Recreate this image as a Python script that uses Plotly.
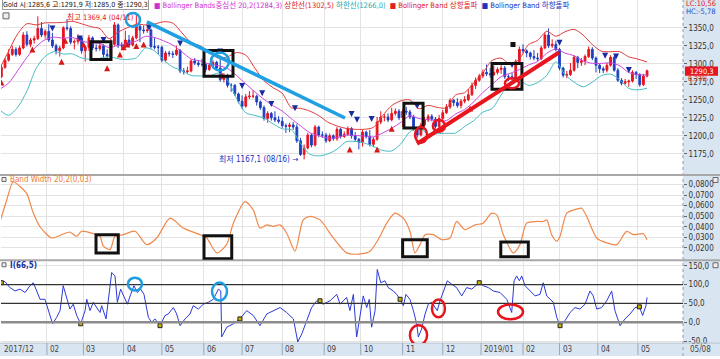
import plotly.graph_objects as go

# ---------------- data ----------------
# x = trading-day number (weekdays), 0 = 2017-12-27
MONTH_DAY = [26, 46, 68, 89, 112, 133, 155, 178, 198, 221, 243, 264, 287, 307, 328, 350]
MONTH_LABEL = ["02", "03", "04", "05", "06", "07", "08", "09", "10", "11", "12",
               "2019/01", "02", "03", "04", "05"]
FIRST_LABEL = "2017/12"
LAST_LABEL = "05/08"

# two-day candles
CANDLE_DAY = list(range(1, 356, 2))
OPEN = [1282,1295,1305,1313,1320,1313,1322,1340,1327,1333,
        1335,1349,1340,1345,1333,1325,1318,1322,1350,1349,
        1330,1331,1336,1318,1323,1336,1322,1321,1325,1313,
        1311,1327,1354,1325,1325,1333,1326,1336,1352,1347,
        1346,1347,1324,1323,1323,1305,1315,1314,1313,1319,
        1290,1289,1290,1304,1301,1299,1299,1292,1298,1302,
        1294,1278,1284,1270,1270,1258,1248,1241,1254,1255,
        1255,1247,1239,1224,1231,1225,1222,1220,1214,1213,
        1215,1212,1193,1174,1183,1201,1187,1212,1201,1201,
        1193,1200,1196,1209,1199,1202,1210,1200,1195,1191,
        1205,1199,1188,1195,1219,1226,1226,1222,1231,1234,
        1225,1234,1233,1226,1210,1201,1215,1222,1227,1223,
        1213,1224,1232,1240,1249,1246,1242,1248,1250,1257,
        1270,1277,1283,1288,1286,1285,1288,1292,1294,1282,
        1282,1280,1303,1320,1318,1315,1310,1308,1307,1322,
        1340,1325,1327,1320,1294,1284,1285,1291,1309,1302,
        1304,1310,1320,1308,1298,1293,1291,1298,1309,1291,
        1277,1273,1275,1276,1288,1285,1271,1283]
HIGH = [1298,1308,1320,1325,1323,1325,1344,1345,1336,1339,
        1366,1358,1348,1355,1343,1328,1325,1352,1362,1352,
        1334,1341,1338,1325,1340,1338,1327,1330,1327,1320,
        1335,1358,1356,1330,1346,1340,1339,1369.4,1354,1353,
        1354,1349,1336,1326,1325,1318,1318,1318,1325,1320,
        1294,1296,1306,1308,1305,1307,1300,1301,1305,1304,
        1309,1287,1286,1273,1272,1260,1256,1258,1262,1263,
        1257,1249,1242,1234,1233,1234,1227,1226,1217,1218,
        1219,1216,1197,1188,1204,1203,1215,1214,1206,1204,
        1203,1202,1212,1211,1206,1213,1212,1205,1197,1208,
        1207,1208,1198,1226,1234,1230,1231,1239,1238,1237,
        1237,1240,1236,1229,1212,1218,1226,1230,1230,1226,
        1229,1236,1244,1252,1251,1252,1251,1255,1265,1274,
        1281,1286,1292,1299,1294,1297,1295,1298,1297,1285,
        1287,1306,1324,1327,1320,1317,1319,1315,1325,1344,
        1349,1334,1332,1322,1296,1290,1301,1312,1311,1308,
        1313,1324,1323,1310,1300,1296,1301,1312,1311,1294,
        1280,1279,1278,1291,1290,1287,1286,1291.9]
LOW = [1280,1293,1303,1311,1310,1311,1320,1324,1323,1328,
       1333,1337,1335,1330,1322,1313,1310,1320,1346,1327,
       1320,1327,1314,1303,1318,1319,1317,1318,1309,1306,
       1309,1325,1322,1321,1322,1323,1324,1334,1330,1342,
       1343,1321,1320,1313,1302,1302,1310,1308,1311,1287,
       1285,1286,1288,1298,1296,1296,1288,1290,1295,1291,
       1275,1274,1267,1261,1255,1245,1237,1239,1251,1252,
       1242,1236,1221,1218,1221,1219,1217,1211,1204,1205,
       1208,1190,1172,1167.1,1181,1184,1185,1198,1197,1190,
       1191,1193,1193,1196,1197,1200,1196,1192,1181,1185,
       1196,1185,1184,1193,1216,1220,1219,1220,1228,1222,
       1212,1229,1223,1207,1197,1199,1213,1219,1220,1210,
       1211,1220,1230,1237,1241,1239,1238,1245,1248,1255,
       1265,1275,1280,1283,1281,1283,1285,1286,1279,1276,
       1276,1278,1301,1315,1309,1306,1305,1304,1305,1320,
       1322,1322,1317,1291,1281,1280,1283,1289,1294,1297,
       1298,1308,1305,1288,1287,1287,1288,1296,1289,1275,
       1270,1271,1268,1274,1279,1268,1269,1281]
CLOSE = [1295,1305,1313,1320,1313,1322,1340,1327,1333,1335,
         1349,1340,1345,1333,1325,1318,1322,1350,1349,1330,
         1331,1336,1318,1323,1336,1322,1321,1325,1313,1311,
         1327,1354,1325,1325,1333,1326,1336,1352,1347,1346,
         1347,1324,1323,1323,1305,1315,1314,1313,1319,1290,
         1289,1290,1304,1301,1299,1299,1292,1298,1302,1294,
         1278,1284,1270,1270,1258,1248,1241,1254,1255,1255,
         1247,1239,1224,1231,1225,1222,1220,1214,1213,1215,
         1212,1193,1174,1183,1201,1187,1212,1201,1201,1193,
         1200,1196,1209,1199,1202,1210,1200,1195,1191,1205,
         1199,1188,1195,1219,1226,1226,1222,1231,1234,1225,
         1234,1233,1226,1210,1201,1215,1222,1227,1223,1213,
         1224,1232,1240,1249,1246,1242,1248,1250,1257,1270,
         1277,1283,1288,1286,1285,1288,1292,1294,1282,1282,
         1280,1303,1320,1318,1315,1310,1308,1307,1322,1340,
         1325,1327,1320,1294,1284,1285,1291,1309,1302,1304,
         1310,1320,1308,1298,1293,1291,1298,1309,1291,1277,
         1273,1275,1276,1288,1285,1271,1283,1290.3]

# Bollinger bands (weekly samples)
BAND_DAY = list(range(0, 356, 5))
BB_MID = [1264.5,1273.1,1290.7,1308.8,1323.6,1333.5,1337.0,1335.5,1336.4,1331.7,
          1329.0,1328.2,1322.5,1325.6,1328.0,1331.5,1338.1,1336.5,1331.8,1326.0,
          1316.6,1306.7,1304.0,1299.5,1297.4,1293.5,1283.6,1272.1,1261.0,1250.6,
          1241.6,1234.3,1223.6,1213.8,1204.4,1200.1,1196.8,1197.4,1200.9,1200.5,
          1199.4,1198.4,1203.7,1210.4,1218.6,1227.7,1223.9,1222.3,1221.1,1221.1,
          1230.2,1236.4,1247.2,1260.1,1271.1,1282.2,1286.8,1291.8,1298.2,1303.2,
          1314.5,1320.4,1314.8,1311.1,1303.9,1300.6,1300.5,1301.2,1297.3,1287.7,
          1285.1,1284.3]
BB_UP = [1293.0,1317.6,1341.7,1355.6,1354.0,1356.8,1357.0,1357.5,1359.0,1355.5,
         1351.6,1348.8,1335.0,1344.0,1350.0,1354.8,1354.0,1355.2,1358.4,1356.5,
         1343.0,1329.6,1324.9,1316.4,1307.8,1309.7,1315.6,1312.0,1293.8,1276.6,
         1266.7,1259.0,1238.9,1238.1,1234.3,1228.0,1218.9,1213.6,1210.2,1208.9,
         1209.0,1211.6,1227.8,1241.9,1248.5,1249.8,1237.4,1242.2,1239.4,1238.8,
         1256.6,1259.9,1273.4,1287.4,1304.5,1307.8,1299.0,1306.7,1326.5,1332.5,
         1345.1,1338.2,1344.4,1347.8,1339.8,1326.6,1317.4,1316.8,1316.8,1309.6,
         1306.5,1302.5]
BB_LO = [1236.0,1228.4,1239.7,1262.0,1293.2,1310.2,1317.0,1313.5,1313.7,1308.0,
         1306.4,1307.6,1310.0,1307.0,1306.0,1308.2,1322.0,1317.8,1305.2,1295.5,
         1290.3,1283.8,1283.1,1282.6,1287.0,1277.3,1251.6,1232.0,1228.2,1224.6,
         1216.5,1209.6,1208.3,1189.5,1174.5,1172.0,1174.7,1181.2,1191.6,1192.1,
         1189.8,1185.2,1179.6,1178.9,1188.7,1205.6,1210.4,1202.4,1202.8,1203.4,
         1203.8,1212.9,1221.0,1232.8,1237.7,1256.6,1274.6,1276.9,1269.9,1273.9,
         1283.9,1302.6,1285.2,1274.4,1268.0,1274.6,1283.6,1285.6,1277.8,1265.8,
         1263.7,1266.0]

# Bollinger breakout signals
UP_DAY = [1, 18, 34, 36, 46, 59, 66, 68, 70, 75, 79, 122, 192, 207, 215, 258]
UP_PRICE = [1278, 1324, 1307, 1336, 1331, 1298, 1317, 1327, 1331, 1329, 1331, 1288,
            1185, 1185, 1214, 1242]
DOWN_DAY = [29, 44, 57, 82, 99, 121, 133, 144, 149, 162, 193, 196, 204, 229, 281,
            307, 332, 338, 345]
DOWN_PRICE = [1345, 1331, 1329, 1346, 1324, 1313, 1265, 1255, 1240, 1234, 1226, 1218,
              1219, 1237, 1294, 1325, 1307, 1306, 1287]
MARK_DAY = [281.5]
MARK_PRICE = [1326.6]

# Band Width 20,2
BW_DAY = [0.3, 3.9, 7.5, 11.2, 14.9, 18.5, 22.2, 28.6, 34.1, 38.6, 42.3, 45.0, 51.4, 55.1,
          56.9, 60.6, 63.3, 67.9, 74.3, 80.7, 86.2, 93.5, 100.8, 109.9, 113.6, 119.1,
          124.5, 128.2, 134.6, 139.1, 142.8, 146.5, 150.1, 153.8, 157.4, 162.0, 166.5,
          170.2, 175.7, 183.0, 190.3, 197.0, 203.1, 208.6, 212.3, 216.8, 221.4, 225.0,
          227.8, 230.5, 233.3, 237.8, 242.4, 247.0, 250.6, 255.2, 260.7, 265.2, 269.8,
          272.6, 276.2, 281.7, 285.3, 289.0, 294.5, 298.1, 300.0, 302.7, 305.5, 307.3,
          311.0, 316.4, 319.2, 321.9, 327.4, 332.9, 338.4, 343.8, 347.5, 352.9, 355.0]
BW_VAL = [0.0450, 0.0650, 0.0825, 0.0780, 0.0715, 0.0530, 0.0400, 0.0294, 0.0325, 0.0350,
          0.0310, 0.0357, 0.0334, 0.0310, 0.0216, 0.0184, 0.0310, 0.0325, 0.0357, 0.0231,
          0.0294, 0.0481, 0.0387, 0.0325, 0.0294, 0.0153, 0.0231, 0.0434, 0.0638, 0.0559,
          0.0387, 0.0418, 0.0403, 0.0418, 0.0341, 0.0169, 0.0465, 0.0497, 0.0465, 0.0294,
          0.0153, 0.0142, 0.0169, 0.0310, 0.0434, 0.0528, 0.0481, 0.0357, 0.0153, 0.0231,
          0.0325, 0.0325, 0.0278, 0.0294, 0.0450, 0.0372, 0.0418, 0.0434, 0.0528, 0.0512,
          0.0325, 0.0153, 0.0231, 0.0434, 0.0450, 0.0450, 0.0465, 0.0325, 0.0263, 0.0310,
          0.0528, 0.0566, 0.0575, 0.0497, 0.0294, 0.0247, 0.0231, 0.0357, 0.0325, 0.0334,
          0.0278]

# I(66,5) oscillator
CCI_DAY = [0.3, 3.0, 5.7, 8.5, 11.2, 14.0, 16.7, 18.5, 20.4, 22.2, 24.9, 26.7, 29.1, 31.3,
           33.2, 34.9, 36.8, 38.6, 40.4, 42.3, 44.5, 46.9, 47.8, 49.6, 51.4, 53.3, 55.1,
           56.0, 58.4, 59.6, 61.5, 63.3, 64.6, 66.4, 68.2, 70.1, 71.9, 73.7, 75.5, 77.4,
           79.2, 81.6, 83.4, 85.2, 88.0, 90.7, 92.5, 95.3, 97.1, 99.0, 101.7, 104.4, 106.2,
           109.0, 111.7, 114.5, 117.2, 120.0, 121.3, 121.8, 124.6, 128.2, 131.8, 135.5,
           139.1, 142.8, 146.5, 150.1, 153.8, 157.4, 161.1, 163.5, 165.7, 168.4, 171.1,
           173.9, 177.5, 181.2, 184.9, 186.7, 190.3, 192.1, 194.0, 195.8, 197.6, 199.4,
           201.3, 202.7, 204.0, 205.9, 207.1, 209.0, 211.3, 213.1, 215.9, 217.7, 219.6,
           221.4, 222.8, 225.0, 226.9, 228.7, 229.6, 231.4, 233.3, 235.1, 236.9, 238.7,
           240.0, 241.5, 244.2, 245.5, 247.9, 250.6, 253.4, 256.1, 258.9, 261.6, 263.0,
           265.2, 268.0, 270.7, 274.4, 278.1, 280.8, 282.1, 283.5, 285.0, 286.3, 288.1,
           290.8, 293.6, 296.3, 298.1, 300.0, 303.6, 305.5, 307.3, 310.0, 312.8, 315.5,
           318.2, 321.0, 323.7, 325.5, 327.4, 330.1, 332.9, 335.6, 337.4, 340.2, 342.9,
           345.7, 348.4, 350.8, 352.6, 354.4, 355.0]
CCI_VAL = [105, 108, 92, 83, 88, 79, 97, 105, 83, 61, 61, 31, -4, 13,
           31, 97, 66, 35, 48, 18, -4, 31, 61, 31, 53, 39, 26,
           44, 9, 57, 132, 123, 53, 88, 70, 48, 74, 97, 79, 88,
           74, 13, 0, 9, -9, 18, 22, 39, 22, -9, 9, 22, 44,
           35, 48, 53, 61, 88, 83, -39, -13, -4, 9, 31,
           18, -9, 22, 31, 39, 26, 9, -52, -31, 4, 39,
           57, 48, 57, 74, 48, 66, 31, 74, -39, 13, 70,
           39, 61, -13, 31, 140, 105, 110, 92, 83, 74, 61,
           44, 74, 61, 31, -4, -39, -18, 22, 48, 53, 39,
           31, 57, 97, 110, 101, 92, 70, 92, 88, 101, 105,
           97, 92, 83, 79, 61, 26, 110, 123, 110, 123, 97,
           83, 70, 74, 105, 70, 53, 13, -9, 4, 26, 39,
           35, 48, 83, 70, 35, 39, 57, 83, 31, -9, 9,
           22, 39, 41, 18, 44, 66]
CCI_MARK_DAY = [1, 44.5, 88, 131.8, 175.7, 219.6, 263, 307.3, 350.8]
CCI_MARK_VAL = [105, -4, -9, 9, 57, 61, 105, -9, 41]

PRICE_TICKS = [1175, 1200, 1225, 1250, 1275, 1300, 1325, 1350]
BW_TICKS = [0.02, 0.03, 0.04, 0.05, 0.06, 0.07, 0.08]
CCI_TICKS = [-50, 0, 50, 100, 150]
CCI_LEVELS = [100, 50]

HIGH_NOTE = "최고 1369,4 (04/11)"
LOW_NOTE = "최저 1167,1 (08/16) →"
GOLD_HEADER = "Gold 시:1285,6 고:1291,9 저:1285,0 종:1290,3"
LEGEND_ITEMS = [("■ ", "#d030d0"), ("Bollinger Bands중심선 20,2(1284,3) ", "#d030d0"),
                ("상한선(1302,5) ", "#e02020"), ("하한선(1266,0)  ", "#20a8b0"),
                ("■ Bollinger Band 상향돌파  ", "#e02020"),
                ("■ Bollinger Band 하향돌파", "#2030c0")]

# hand-drawn highlights (data units: day0, day1, v0, v1)
PRICE_BOXES = [(50.1, 61.1, 1305.9, 1330.7), (112.1, 128.0, 1282.5, 1318.3),
               (221.7, 232.2, 1210.9, 1245.3), (270.0, 286.4, 1264.6, 1300.4)]
PRICE_BLUE_RINGS = [(69.3, 77.0, 1351.4, 1370.7), (115.9, 125.8, 1290.8, 1315.6)]
PRICE_RED_RINGS = [(227.8, 234.4, 1190.2, 1212.3), (237.6, 244.2, 1205.4, 1221.9),
                   (277.1, 284.8, 1266.0, 1279.8)]
BLUE_TREND = (80.8, 1358.3, 189.4, 1224.7)
RED_TREND = (228.9, 1188.8, 306.7, 1315.6)
BW_BOXES = [(52.9, 65.1, 0.0153, 0.0325), (112.1, 127.3, 0.0097, 0.0315),
            (221.0, 234.5, 0.0116, 0.0278), (274.8, 289.9, 0.0116, 0.0256)]
CCI_BLUE_RINGS = [(70.4, 78.1, 84.2, 118.4), (116.5, 124.7, 57.9, 105.3)]
CCI_RED_RINGS = [(225.0, 234.4, -60.5, -7.9), (237.1, 244.2, 13.2, 60.5),
                 (273.3, 287.0, 7.9, 47.4)]

# ---------------- style / layout ----------------
W, H = 720, 359
FONT = "Liberation Sans Narrow, DejaVu Sans Condensed, Liberation Sans, Noto Sans CJK KR, sans-serif"
RED = "#e8141e"
BLUE = "#1f3fc0"
GRID = "#e3e3e3"
PANEL = "#d9e5f1"
XR = [(1 + 0.47) / 1.824, (683 + 0.47) / 1.824]
XDOM = [1 / W, 683 / W]


def fx(p):
    return p / W


def fy(p):
    return 1 - p / H


def fmt(v, nd):
    return f"{v:.{nd}f}".replace(".", ",")


fig = go.Figure()
fig.add_trace(go.Candlestick(
    x=CANDLE_DAY, open=OPEN, high=HIGH, low=LOW, close=CLOSE,
    increasing=dict(line=dict(color=RED, width=1), fillcolor=RED),
    decreasing=dict(line=dict(color=BLUE, width=1), fillcolor=BLUE),
    whiskerwidth=0, hoverinfo="skip", xaxis="x", yaxis="y"))
for vals, col in [(BB_UP, "#e03a3a"), (BB_MID, "#cc44dd"), (BB_LO, "#44bcc4")]:
    fig.add_trace(go.Scatter(x=BAND_DAY, y=vals, mode="lines",
                             line=dict(color=col, width=1, shape="spline", smoothing=0.8),
                             hoverinfo="skip", xaxis="x", yaxis="y"))
fig.add_trace(go.Scatter(x=UP_DAY, y=UP_PRICE, mode="markers",
                         marker=dict(symbol="arrow-up", size=6, color="#d81818"),
                         hoverinfo="skip", xaxis="x", yaxis="y"))
fig.add_trace(go.Scatter(x=DOWN_DAY, y=DOWN_PRICE, mode="markers",
                         marker=dict(symbol="arrow-down", size=6, color="#1a2aa0"),
                         hoverinfo="skip", xaxis="x", yaxis="y"))
fig.add_trace(go.Scatter(x=MARK_DAY, y=MARK_PRICE, mode="markers",
                         marker=dict(symbol="square", size=5, color="#111"),
                         hoverinfo="skip", xaxis="x", yaxis="y"))
fig.add_trace(go.Scatter(x=BW_DAY, y=BW_VAL, mode="lines",
                         line=dict(color="#f0884a", width=1.2, shape="spline", smoothing=0.7),
                         hoverinfo="skip", xaxis="x2", yaxis="y2"))
fig.add_trace(go.Scatter(x=CCI_DAY, y=CCI_VAL, mode="lines",
                         line=dict(color="#2a3ad8", width=1),
                         hoverinfo="skip", xaxis="x3", yaxis="y3"))
fig.add_trace(go.Scatter(x=CCI_MARK_DAY, y=CCI_MARK_VAL, mode="markers",
                         marker=dict(symbol="square", size=4, color="#c8b400",
                                     line=dict(color="#222", width=1)),
                         hoverinfo="skip", xaxis="x3", yaxis="y3"))

xcommon = dict(range=XR, domain=XDOM, tickvals=MONTH_DAY, showticklabels=False,
               showgrid=True, gridcolor=GRID, gridwidth=1, zeroline=False,
               showline=False, ticks="", fixedrange=True)
ycommon = dict(side="right", showgrid=True, gridcolor=GRID, zeroline=False,
               ticks="outside", ticklen=3, tickcolor="#666", showline=False,
               tickfont=dict(size=8, color="#333", family=FONT), fixedrange=True)

fig.update_layout(
    width=W, height=H, margin=dict(l=0, r=0, t=0, b=0),
    paper_bgcolor="white", plot_bgcolor="white", showlegend=False,
    font=dict(family=FONT, size=8, color="#333"),
    xaxis=dict(**xcommon, anchor="y", rangeslider=dict(visible=False)),
    xaxis2=dict(**xcommon, anchor="y2"),
    xaxis3=dict(**xcommon, anchor="y3"),
    yaxis=dict(**ycommon, domain=[1 - 176 / H, 1], range=[1146.1, 1388.6], anchor="x",
               tickvals=PRICE_TICKS, ticktext=[fmt(v, 1) for v in PRICE_TICKS]),
    yaxis2=dict(**ycommon, domain=[1 - 262 / H, 1 - 178 / H], range=[0.00875, 0.08748],
                anchor="x2", tickvals=BW_TICKS, ticktext=[fmt(v, 4) for v in BW_TICKS]),
    yaxis3=dict(**ycommon, domain=[1 - 346 / H, 1 - 264 / H], range=[-55.3, 160.5],
                anchor="x3", tickvals=CCI_TICKS, ticktext=[fmt(v, 1) for v in CCI_TICKS]),
)

shapes = []
# panels / frame
shapes.append(dict(type="rect", xref="paper", yref="paper", x0=fx(683), x1=1, y0=0, y1=1,
                   fillcolor=PANEL, line=dict(width=0), layer="below"))
shapes.append(dict(type="rect", xref="paper", yref="paper", x0=0, x1=1, y0=0, y1=fy(346),
                   fillcolor=PANEL, line=dict(width=0), layer="below"))
shapes.append(dict(type="line", xref="paper", yref="paper", x0=fx(683), x1=fx(683), y0=0, y1=1,
                   line=dict(color="#8a9ab0", width=1, dash="dot")))
for yy in (176.5, 262.5):
    shapes.append(dict(type="line", xref="paper", yref="paper", x0=0, x1=1, y0=fy(yy), y1=fy(yy),
                       line=dict(color="#a8a8a8", width=2)))
shapes.append(dict(type="line", xref="paper", yref="paper", x0=0, x1=1, y0=fy(346), y1=fy(346),
                   line=dict(color="#b8c4d0", width=1)))
for d in MONTH_DAY:
    shapes.append(dict(type="line", xref="x3", yref="paper", x0=d, x1=d, y0=fy(358), y1=fy(346),
                       line=dict(color="#98a8b8", width=1)))
# small icons
for (a, b, c, d) in [(3, 13, 9, 19), (2, 179, 6, 183), (2, 265, 6, 269),
                     (713, 179, 718, 184), (713, 265, 718, 270)]:
    shapes.append(dict(type="rect", xref="paper", yref="paper", x0=fx(a), x1=fx(c),
                       y0=fy(d), y1=fy(b), fillcolor="#eeeeee", line=dict(color="#666", width=1)))
# CCI reference levels
for lv in CCI_LEVELS:
    shapes.append(dict(type="line", xref="x3 domain", yref="y3", x0=0, x1=1, y0=lv, y1=lv,
                       line=dict(color="#333333", width=1.2)))
shapes.append(dict(type="line", xref="x3 domain", yref="y3", x0=0, x1=1, y0=0, y1=0,
                   line=dict(color="#8c8c8c", width=2.5)))
# price tag
shapes.append(dict(type="rect", xref="paper", yref="paper", x0=fx(685), x1=fx(718), y0=fy(76.5),
                   y1=fy(67), fillcolor=RED, line=dict(width=0)))
# hand-drawn highlights
for (a, b, c, d) in PRICE_BOXES:
    shapes.append(dict(type="rect", xref="x", yref="y", x0=a, x1=b, y0=c, y1=d,
                       line=dict(color="#111", width=3)))
for (a, b, c, d) in PRICE_BLUE_RINGS:
    shapes.append(dict(type="circle", xref="x", yref="y", x0=a, x1=b, y0=c, y1=d,
                       line=dict(color="#1e9de0", width=2.5)))
for (a, b, c, d) in PRICE_RED_RINGS:
    shapes.append(dict(type="circle", xref="x", yref="y", x0=a, x1=b, y0=c, y1=d,
                       line=dict(color=RED, width=2.5)))
shapes.append(dict(type="line", xref="x", yref="y", x0=BLUE_TREND[0], y0=BLUE_TREND[1],
                   x1=BLUE_TREND[2], y1=BLUE_TREND[3], line=dict(color="#1ea0e2", width=3.5)))
shapes.append(dict(type="line", xref="x", yref="y", x0=RED_TREND[0], y0=RED_TREND[1],
                   x1=RED_TREND[2], y1=RED_TREND[3], line=dict(color=RED, width=4)))
for (a, b, c, d) in BW_BOXES:
    shapes.append(dict(type="rect", xref="x2", yref="y2", x0=a, x1=b, y0=c, y1=d,
                       line=dict(color="#111", width=3)))
for (a, b, c, d) in CCI_BLUE_RINGS:
    shapes.append(dict(type="circle", xref="x3", yref="y3", x0=a, x1=b, y0=c, y1=d,
                       line=dict(color="#1e9de0", width=2.5)))
for (a, b, c, d) in CCI_RED_RINGS:
    shapes.append(dict(type="circle", xref="x3", yref="y3", x0=a, x1=b, y0=c, y1=d,
                       line=dict(color=RED, width=2.5)))
fig.update_layout(shapes=shapes)

ann = []


def txt(x, y, s, color, size=8, anchor="left", bold=False, **kw):
    ann.append(dict(x=fx(x), y=fy(y), xref="paper", yref="paper", text=f"<b>{s}</b>" if bold else s,
                    showarrow=False, xanchor=anchor, yanchor="middle",
                    font=dict(family=FONT, size=size, color=color), **kw))


# header legend
txt(2, 5, GOLD_HEADER, "#111111", size=7, bgcolor="white", bordercolor="#9a9a9a",
    borderwidth=1, borderpad=0)
legend_text = "".join(f"<span style='color:{c}'>{s}</span>" for s, c in LEGEND_ITEMS)
txt(152, 5, legend_text, "#333", size=7.5)
txt(684, 4, "LC:10,56", "#e02020", size=7.5)
txt(684, 11.5, "HC:-5,78", "#2050d0", size=7.5)
txt(701.5, 71.8, "1290,3", "#ffffff", anchor="center", size=7.5)
txt(686, 80, "0,37%", "#e02020", size=7)
txt(8, 181, "Band Width 20,2(0,03)", "#f07a30")
txt(8, 267.5, "I(66,5)", "#2030a0", bold=True)
# bottom date strip
txt(2, 352.5, FIRST_LABEL, "#444")
txt(688, 352.5, LAST_LABEL, "#444")
for d, lab in zip(MONTH_DAY, MONTH_LABEL):
    ann.append(dict(x=d, y=fy(352.5), xref="x3", yref="paper", text=lab, showarrow=False,
                    xanchor="left", yanchor="middle", xshift=1,
                    font=dict(family=FONT, size=8, color="#444")))
# price notes
ann.append(dict(x=36, y=1365, xref="x", yref="y", text=HIGH_NOTE, showarrow=False,
                xanchor="left", yanchor="middle", font=dict(family=FONT, size=7.5, color="#e02020")))
ann.append(dict(x=165, y=1168, xref="x", yref="y", text=LOW_NOTE, showarrow=False,
                xanchor="right", yanchor="middle", font=dict(family=FONT, size=8, color="#2030c0")))
fig.update_layout(annotations=ann)

fig.write_html("out.html", config={"displayModeBar": False, "staticPlot": True},
               post_script="document.body.style.margin='0';document.body.style.padding='0';")
